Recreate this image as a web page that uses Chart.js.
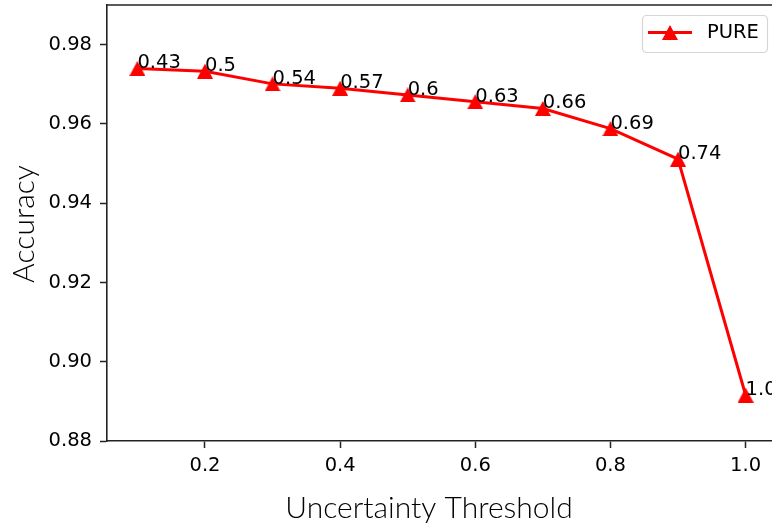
<!DOCTYPE html>
<html>
<head>
<meta charset="utf-8">
<script src="https://cdn.jsdelivr.net/npm/chart.js@4.4.0/dist/chart.umd.min.js"></script>
<style>
html, body { margin: 0; padding: 0; background: #fff; overflow: hidden; width: 772px; height: 526px; }
canvas { display: block; }
</style>
</head>
<body>
<canvas id="myChart" width="780" height="526"></canvas>
<script>
// 데이터
const thresholds = [0.1, 0.2, 0.3, 0.4, 0.5, 0.6, 0.7, 0.8, 0.9, 1.0];
const accuracy = [0.9740, 0.9733, 0.9701, 0.9690, 0.9673, 0.9656, 0.9639, 0.9588, 0.9511, 0.8916];
const pointLabels = ['0.43', '0.5', '0.54', '0.57', '0.6', '0.63', '0.66', '0.69', '0.74', '1.0'];
const xTicks = [0.2, 0.4, 0.6, 0.8, 1.0];
const yTicks = [0.88, 0.90, 0.92, 0.94, 0.96, 0.98];
const seriesName = 'PURE';

const RED = '#ff0000';
const INK = '#222222';
const tickFont = { family: 'DejaVu Sans', size: 19.5 };
const titleFont = '300 30px "Lato"';

// matplotlib 스타일 삼각형 마커
function makeTriangle(w, h, color) {
    const c = document.createElement('canvas');
    c.width = w;
    c.height = h;
    const g = c.getContext('2d');
    g.fillStyle = color;
    g.beginPath();
    g.moveTo(w / 2, 0);
    g.lineTo(w, h);
    g.lineTo(0, h);
    g.closePath();
    g.fill();
    return c;
}
const tri = makeTriangle(16, 15, RED);

// 라벨, 위쪽 축선, 범례, 축 제목을 그리는 플러그인
const decorPlugin = {
    id: 'decor',
    afterDatasetsDraw(chart) {
        const ctx = chart.ctx;
        const area = chart.chartArea;
        const meta = chart.getDatasetMeta(0);

        ctx.save();
        ctx.fillStyle = '#000';
        ctx.font = tickFont.size + 'px "' + tickFont.family + '"';
        ctx.textAlign = 'left';
        ctx.textBaseline = 'alphabetic';
        meta.data.forEach((pt, i) => {
            ctx.fillText(pointLabels[i], pt.x, pt.y);
        });

        // top spine
        ctx.strokeStyle = INK;
        ctx.lineWidth = 1.6;
        ctx.beginPath();
        ctx.moveTo(area.left, area.top);
        ctx.lineTo(area.right, area.top);
        ctx.stroke();

        // legend
        const lx = 642.5, ly = 15.5, lw = 125, lh = 37;
        ctx.fillStyle = 'rgba(255,255,255,0.8)';
        ctx.strokeStyle = 'rgba(204,204,204,0.8)';
        ctx.lineWidth = 1.2;
        ctx.beginPath();
        ctx.roundRect(lx, ly, lw, lh, 4);
        ctx.fill();
        ctx.stroke();
        ctx.strokeStyle = RED;
        ctx.lineWidth = 3;
        ctx.beginPath();
        ctx.moveTo(648, 32.5);
        ctx.lineTo(692, 32.5);
        ctx.stroke();
        ctx.drawImage(tri, 670 - 8, 32.5 - 7.5);
        ctx.fillStyle = '#000';
        ctx.textBaseline = 'middle';
        ctx.fillText(seriesName, 707, 33);
        ctx.restore();
    },
    afterDraw(chart) {
        const ctx = chart.ctx;
        ctx.save();
        ctx.fillStyle = '#000';
        ctx.font = titleFont;
        ctx.textAlign = 'center';
        ctx.textBaseline = 'alphabetic';
        ctx.fillText('Uncertainty Threshold', 429, 518);
        ctx.translate(33.5, 224);
        ctx.rotate(-Math.PI / 2);
        ctx.fillText('Accuracy', 0, 0);
        ctx.restore();
    }
};

const ctx = document.getElementById('myChart').getContext('2d');
new Chart(ctx, {
    type: 'line',
    data: {
        datasets: [{
            label: seriesName,
            data: thresholds.map((x, i) => ({ x: x, y: accuracy[i] })),
            borderColor: RED,
            backgroundColor: RED,
            borderWidth: 3,
            pointStyle: tri,
            pointRadius: 8,
            pointHoverRadius: 8,
            tension: 0,
            clip: false
        }]
    },
    options: {
        responsive: false,
        animation: false,
        events: [],
        layout: { autoPadding: false, padding: { top: 5, right: 4, left: 0, bottom: 0 } },
        plugins: {
            legend: { display: false },
            tooltip: { enabled: false }
        },
        scales: {
            x: {
                type: 'linear',
                min: 0.055,
                max: 1.045,
                afterFit: scale => {
                    scale.height = 85;
                    scale.paddingLeft = 0;
                    scale.paddingRight = 0;
                },
                afterBuildTicks: scale => { scale.ticks = xTicks.map(v => ({ value: v })); },
                grid: { drawOnChartArea: false, drawTicks: true, tickLength: 7, tickColor: INK, tickWidth: 1.5 },
                border: { display: true, color: INK, width: 1.6 },
                ticks: {
                    color: '#000',
                    font: tickFont,
                    padding: 6,
                    maxRotation: 0,
                    callback: v => v.toFixed(1)
                }
            },
            y: {
                type: 'linear',
                min: 0.88,
                max: 0.990,
                afterFit: scale => {
                    scale.width = 107;
                    scale.paddingTop = 0;
                    scale.paddingBottom = 0;
                },
                afterBuildTicks: scale => { scale.ticks = yTicks.map(v => ({ value: v })); },
                grid: { drawOnChartArea: false, drawTicks: true, tickLength: 7, tickColor: INK, tickWidth: 1.5 },
                border: { display: true, color: INK, width: 1.6 },
                ticks: {
                    color: '#000',
                    font: tickFont,
                    padding: 8,
                    callback: v => v.toFixed(2)
                }
            }
        }
    },
    plugins: [decorPlugin]
});
</script>
</body>
</html>
